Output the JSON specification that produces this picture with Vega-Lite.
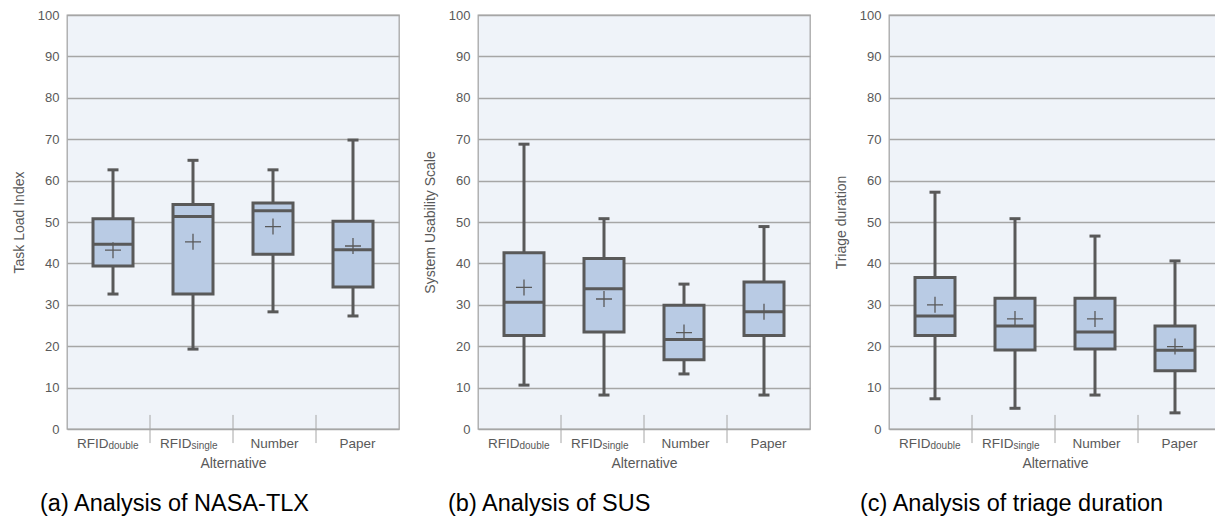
{
  "$schema": "https://vega.github.io/schema/vega-lite/v6.json",
  "padding": {"left": 11, "top": 8, "right": 0, "bottom": 0},
  "bounds": "flush",
  "spacing": 79,
  "datasets": {
    "tlx": [
      {"cat": "RFIDdouble", "sub": "double", "lo": 32.6, "q1": 39.4, "med": 44.6, "q3": 50.8, "hi": 62.6, "mean": 43.2},
      {"cat": "RFIDsingle", "sub": "single", "lo": 19.3, "q1": 32.6, "med": 51.3, "q3": 54.2, "hi": 64.9, "mean": 45.2},
      {"cat": "Number", "sub": "", "lo": 28.3, "q1": 42.2, "med": 52.7, "q3": 54.6, "hi": 62.6, "mean": 48.9},
      {"cat": "Paper", "sub": "", "lo": 27.3, "q1": 34.3, "med": 43.3, "q3": 50.2, "hi": 69.8, "mean": 44.2}
    ],
    "sus": [
      {"cat": "RFIDdouble", "sub": "double", "lo": 10.6, "q1": 22.6, "med": 30.6, "q3": 42.6, "hi": 68.8, "mean": 34.2},
      {"cat": "RFIDsingle", "sub": "single", "lo": 8.2, "q1": 23.4, "med": 33.9, "q3": 41.2, "hi": 50.8, "mean": 31.4},
      {"cat": "Number", "sub": "", "lo": 13.3, "q1": 16.7, "med": 21.6, "q3": 29.9, "hi": 35.0, "mean": 23.3},
      {"cat": "Paper", "sub": "", "lo": 8.2, "q1": 22.6, "med": 28.3, "q3": 35.5, "hi": 48.9, "mean": 28.3}
    ],
    "triage": [
      {"cat": "RFIDdouble", "sub": "double", "lo": 7.3, "q1": 22.6, "med": 27.3, "q3": 36.6, "hi": 57.2, "mean": 30.0},
      {"cat": "RFIDsingle", "sub": "single", "lo": 5.0, "q1": 19.1, "med": 24.9, "q3": 31.6, "hi": 50.8, "mean": 26.6},
      {"cat": "Number", "sub": "", "lo": 8.2, "q1": 19.3, "med": 23.4, "q3": 31.6, "hi": 46.6, "mean": 26.6},
      {"cat": "Paper", "sub": "", "lo": 3.9, "q1": 14.1, "med": 19.0, "q3": 24.9, "hi": 40.6, "mean": 19.9}
    ]
  },
  "config": {
    "font": "Liberation Sans",
    "view": {"fill": "#EFF3F9", "stroke": "#A6A6A6", "strokeWidth": 1.3},
    "axisY": {
      "grid": true, "gridColor": "#A6A6A6", "gridWidth": 1.3, "domain": false, "ticks": false,
      "labelPadding": 8, "labelFontSize": 13, "labelColor": "#595959",
      "titleFontSize": 14, "titleColor": "#595959", "titleFontWeight": "normal", "titlePadding": 11,
      "values": [0, 10, 20, 30, 40, 50, 60, 70, 80, 90, 100]
    },
    "title": {"fontSize": 23.5, "fontWeight": "normal", "color": "#000000"}
  },
  "hconcat": [
    {
      "data": {"name": "tlx"},
      "width": 332, "height": 414,
      "title": {"text": "(a) Analysis of NASA-TLX", "orient": "bottom", "anchor": "start", "frame": "group", "dx": -27, "offset": 21},
      "resolve": {"scale": {"x": "independent"}},
      "layer": [
        {"mark": {"type": "rule", "color": "#595959", "strokeWidth": 3},
         "encoding": {
           "x": {"field": "cat", "type": "nominal", "scale": {"type": "point", "padding": 0.575, "domain": ["RFIDdouble", "RFIDsingle", "Number", "Paper"]}, "axis": null},
           "y": {"field": "lo", "type": "quantitative", "scale": {"domain": [0, 100], "nice": false}, "title": "Task Load Index"},
           "y2": {"field": "hi"}}},
        {"mark": {"type": "tick", "color": "#595959", "thickness": 3, "size": 11, "opacity": 1},
         "encoding": {
           "x": {"field": "cat", "type": "nominal", "scale": {"type": "point", "padding": 0.575, "domain": ["RFIDdouble", "RFIDsingle", "Number", "Paper"]}, "axis": null},
           "y": {"field": "lo", "type": "quantitative", "scale": {"domain": [0, 100], "nice": false}, "title": "Task Load Index"}}},
        {"mark": {"type": "tick", "color": "#595959", "thickness": 3, "size": 11, "opacity": 1},
         "encoding": {
           "x": {"field": "cat", "type": "nominal", "scale": {"type": "point", "padding": 0.575, "domain": ["RFIDdouble", "RFIDsingle", "Number", "Paper"]}, "axis": null},
           "y": {"field": "hi", "type": "quantitative", "scale": {"domain": [0, 100], "nice": false}, "title": "Task Load Index"}}},
        {"mark": {"type": "bar", "fill": "#B9CBE4", "stroke": "#595959", "strokeWidth": 3, "size": 40},
         "encoding": {
           "x": {"field": "cat", "type": "nominal", "scale": {"type": "point", "padding": 0.575, "domain": ["RFIDdouble", "RFIDsingle", "Number", "Paper"]}, "axis": null},
           "y": {"field": "q1", "type": "quantitative", "scale": {"domain": [0, 100], "nice": false}, "title": "Task Load Index"},
           "y2": {"field": "q3"}}},
        {"mark": {"type": "tick", "color": "#595959", "thickness": 3, "size": 40, "opacity": 1},
         "encoding": {
           "x": {"field": "cat", "type": "nominal", "scale": {"type": "point", "padding": 0.575, "domain": ["RFIDdouble", "RFIDsingle", "Number", "Paper"]}, "axis": null},
           "y": {"field": "med", "type": "quantitative", "scale": {"domain": [0, 100], "nice": false}, "title": "Task Load Index"}}},
        {"mark": {"type": "point", "shape": "M-1,0L1,0M0,-1L0,1", "filled": false, "stroke": "#595959", "strokeWidth": 1.3, "size": 256, "opacity": 1},
         "encoding": {
           "x": {"field": "cat", "type": "nominal", "scale": {"type": "point", "padding": 0.575, "domain": ["RFIDdouble", "RFIDsingle", "Number", "Paper"]}, "axis": null},
           "y": {"field": "mean", "type": "quantitative", "scale": {"domain": [0, 100], "nice": false}, "title": "Task Load Index"}}},
        {"transform": [{"filter": "datum.cat != 'RFIDdouble'"}],
         "mark": {"type": "rule", "color": "#A6A6A6", "strokeWidth": 1},
         "encoding": {
           "x": {"field": "cat", "type": "nominal", "bandPosition": 0,
                 "scale": {"type": "band", "paddingInner": 0, "paddingOuter": 0, "domain": ["RFIDdouble", "RFIDsingle", "Number", "Paper"]},
                 "axis": {"title": "Alternative", "ticks": false, "domain": false, "labelAngle": 0, "labelPadding": 7, "labelFontSize": 13.5, "labelColor": "#595959",
                          "titleFontSize": 14, "titleColor": "#595959", "titleFontWeight": "normal", "titlePadding": 7, "labelOverlap": false,
                          "labelExpr": "indexof(datum.value, 'RFID') == 0 ? 'RFID' : datum.value",
                          "labelAlign": {"condition": {"test": "indexof(datum.value, 'RFID') == 0", "value": "right"}, "value": "center"}}},
           "y": {"datum": 3.4, "type": "quantitative", "scale": {"domain": [0, 100], "nice": false}, "title": "Task Load Index"},
           "y2": {"datum": -3.4}}},
        {"mark": {"type": "text", "align": "left", "baseline": "alphabetic", "fontSize": 10, "color": "#595959", "dy": 20},
         "encoding": {
           "x": {"field": "cat", "type": "nominal", "scale": {"type": "band", "paddingInner": 0, "paddingOuter": 0, "domain": ["RFIDdouble", "RFIDsingle", "Number", "Paper"]}, "axis": null},
           "y": {"datum": 0, "type": "quantitative", "scale": {"domain": [0, 100], "nice": false}, "title": "Task Load Index"},
           "text": {"field": "sub"}}}
      ]
    },
    {
      "data": {"name": "sus"},
      "width": 332, "height": 414,
      "title": {"text": "(b) Analysis of SUS", "orient": "bottom", "anchor": "start", "frame": "group", "dx": -30, "offset": 21},
      "resolve": {"scale": {"x": "independent"}},
      "layer": [
        {"mark": {"type": "rule", "color": "#595959", "strokeWidth": 3},
         "encoding": {
           "x": {"field": "cat", "type": "nominal", "scale": {"type": "point", "padding": 0.575, "domain": ["RFIDdouble", "RFIDsingle", "Number", "Paper"]}, "axis": null},
           "y": {"field": "lo", "type": "quantitative", "scale": {"domain": [0, 100], "nice": false}, "title": "System Usability Scale"},
           "y2": {"field": "hi"}}},
        {"mark": {"type": "tick", "color": "#595959", "thickness": 3, "size": 11, "opacity": 1},
         "encoding": {
           "x": {"field": "cat", "type": "nominal", "scale": {"type": "point", "padding": 0.575, "domain": ["RFIDdouble", "RFIDsingle", "Number", "Paper"]}, "axis": null},
           "y": {"field": "lo", "type": "quantitative", "scale": {"domain": [0, 100], "nice": false}, "title": "System Usability Scale"}}},
        {"mark": {"type": "tick", "color": "#595959", "thickness": 3, "size": 11, "opacity": 1},
         "encoding": {
           "x": {"field": "cat", "type": "nominal", "scale": {"type": "point", "padding": 0.575, "domain": ["RFIDdouble", "RFIDsingle", "Number", "Paper"]}, "axis": null},
           "y": {"field": "hi", "type": "quantitative", "scale": {"domain": [0, 100], "nice": false}, "title": "System Usability Scale"}}},
        {"mark": {"type": "bar", "fill": "#B9CBE4", "stroke": "#595959", "strokeWidth": 3, "size": 40},
         "encoding": {
           "x": {"field": "cat", "type": "nominal", "scale": {"type": "point", "padding": 0.575, "domain": ["RFIDdouble", "RFIDsingle", "Number", "Paper"]}, "axis": null},
           "y": {"field": "q1", "type": "quantitative", "scale": {"domain": [0, 100], "nice": false}, "title": "System Usability Scale"},
           "y2": {"field": "q3"}}},
        {"mark": {"type": "tick", "color": "#595959", "thickness": 3, "size": 40, "opacity": 1},
         "encoding": {
           "x": {"field": "cat", "type": "nominal", "scale": {"type": "point", "padding": 0.575, "domain": ["RFIDdouble", "RFIDsingle", "Number", "Paper"]}, "axis": null},
           "y": {"field": "med", "type": "quantitative", "scale": {"domain": [0, 100], "nice": false}, "title": "System Usability Scale"}}},
        {"mark": {"type": "point", "shape": "M-1,0L1,0M0,-1L0,1", "filled": false, "stroke": "#595959", "strokeWidth": 1.3, "size": 256, "opacity": 1},
         "encoding": {
           "x": {"field": "cat", "type": "nominal", "scale": {"type": "point", "padding": 0.575, "domain": ["RFIDdouble", "RFIDsingle", "Number", "Paper"]}, "axis": null},
           "y": {"field": "mean", "type": "quantitative", "scale": {"domain": [0, 100], "nice": false}, "title": "System Usability Scale"}}},
        {"transform": [{"filter": "datum.cat != 'RFIDdouble'"}],
         "mark": {"type": "rule", "color": "#A6A6A6", "strokeWidth": 1},
         "encoding": {
           "x": {"field": "cat", "type": "nominal", "bandPosition": 0,
                 "scale": {"type": "band", "paddingInner": 0, "paddingOuter": 0, "domain": ["RFIDdouble", "RFIDsingle", "Number", "Paper"]},
                 "axis": {"title": "Alternative", "ticks": false, "domain": false, "labelAngle": 0, "labelPadding": 7, "labelFontSize": 13.5, "labelColor": "#595959",
                          "titleFontSize": 14, "titleColor": "#595959", "titleFontWeight": "normal", "titlePadding": 7, "labelOverlap": false,
                          "labelExpr": "indexof(datum.value, 'RFID') == 0 ? 'RFID' : datum.value",
                          "labelAlign": {"condition": {"test": "indexof(datum.value, 'RFID') == 0", "value": "right"}, "value": "center"}}},
           "y": {"datum": 3.4, "type": "quantitative", "scale": {"domain": [0, 100], "nice": false}, "title": "System Usability Scale"},
           "y2": {"datum": -3.4}}},
        {"mark": {"type": "text", "align": "left", "baseline": "alphabetic", "fontSize": 10, "color": "#595959", "dy": 20},
         "encoding": {
           "x": {"field": "cat", "type": "nominal", "scale": {"type": "band", "paddingInner": 0, "paddingOuter": 0, "domain": ["RFIDdouble", "RFIDsingle", "Number", "Paper"]}, "axis": null},
           "y": {"datum": 0, "type": "quantitative", "scale": {"domain": [0, 100], "nice": false}, "title": "System Usability Scale"},
           "text": {"field": "sub"}}}
      ]
    },
    {
      "data": {"name": "triage"},
      "width": 332, "height": 414,
      "title": {"text": "(c) Analysis of triage duration", "orient": "bottom", "anchor": "start", "frame": "group", "dx": -29, "offset": 21},
      "resolve": {"scale": {"x": "independent"}},
      "layer": [
        {"mark": {"type": "rule", "color": "#595959", "strokeWidth": 3},
         "encoding": {
           "x": {"field": "cat", "type": "nominal", "scale": {"type": "point", "padding": 0.575, "domain": ["RFIDdouble", "RFIDsingle", "Number", "Paper"]}, "axis": null},
           "y": {"field": "lo", "type": "quantitative", "scale": {"domain": [0, 100], "nice": false}, "title": "Triage duration"},
           "y2": {"field": "hi"}}},
        {"mark": {"type": "tick", "color": "#595959", "thickness": 3, "size": 11, "opacity": 1},
         "encoding": {
           "x": {"field": "cat", "type": "nominal", "scale": {"type": "point", "padding": 0.575, "domain": ["RFIDdouble", "RFIDsingle", "Number", "Paper"]}, "axis": null},
           "y": {"field": "lo", "type": "quantitative", "scale": {"domain": [0, 100], "nice": false}, "title": "Triage duration"}}},
        {"mark": {"type": "tick", "color": "#595959", "thickness": 3, "size": 11, "opacity": 1},
         "encoding": {
           "x": {"field": "cat", "type": "nominal", "scale": {"type": "point", "padding": 0.575, "domain": ["RFIDdouble", "RFIDsingle", "Number", "Paper"]}, "axis": null},
           "y": {"field": "hi", "type": "quantitative", "scale": {"domain": [0, 100], "nice": false}, "title": "Triage duration"}}},
        {"mark": {"type": "bar", "fill": "#B9CBE4", "stroke": "#595959", "strokeWidth": 3, "size": 40},
         "encoding": {
           "x": {"field": "cat", "type": "nominal", "scale": {"type": "point", "padding": 0.575, "domain": ["RFIDdouble", "RFIDsingle", "Number", "Paper"]}, "axis": null},
           "y": {"field": "q1", "type": "quantitative", "scale": {"domain": [0, 100], "nice": false}, "title": "Triage duration"},
           "y2": {"field": "q3"}}},
        {"mark": {"type": "tick", "color": "#595959", "thickness": 3, "size": 40, "opacity": 1},
         "encoding": {
           "x": {"field": "cat", "type": "nominal", "scale": {"type": "point", "padding": 0.575, "domain": ["RFIDdouble", "RFIDsingle", "Number", "Paper"]}, "axis": null},
           "y": {"field": "med", "type": "quantitative", "scale": {"domain": [0, 100], "nice": false}, "title": "Triage duration"}}},
        {"mark": {"type": "point", "shape": "M-1,0L1,0M0,-1L0,1", "filled": false, "stroke": "#595959", "strokeWidth": 1.3, "size": 256, "opacity": 1},
         "encoding": {
           "x": {"field": "cat", "type": "nominal", "scale": {"type": "point", "padding": 0.575, "domain": ["RFIDdouble", "RFIDsingle", "Number", "Paper"]}, "axis": null},
           "y": {"field": "mean", "type": "quantitative", "scale": {"domain": [0, 100], "nice": false}, "title": "Triage duration"}}},
        {"transform": [{"filter": "datum.cat != 'RFIDdouble'"}],
         "mark": {"type": "rule", "color": "#A6A6A6", "strokeWidth": 1},
         "encoding": {
           "x": {"field": "cat", "type": "nominal", "bandPosition": 0,
                 "scale": {"type": "band", "paddingInner": 0, "paddingOuter": 0, "domain": ["RFIDdouble", "RFIDsingle", "Number", "Paper"]},
                 "axis": {"title": "Alternative", "ticks": false, "domain": false, "labelAngle": 0, "labelPadding": 7, "labelFontSize": 13.5, "labelColor": "#595959",
                          "titleFontSize": 14, "titleColor": "#595959", "titleFontWeight": "normal", "titlePadding": 7, "labelOverlap": false,
                          "labelExpr": "indexof(datum.value, 'RFID') == 0 ? 'RFID' : datum.value",
                          "labelAlign": {"condition": {"test": "indexof(datum.value, 'RFID') == 0", "value": "right"}, "value": "center"}}},
           "y": {"datum": 3.4, "type": "quantitative", "scale": {"domain": [0, 100], "nice": false}, "title": "Triage duration"},
           "y2": {"datum": -3.4}}},
        {"mark": {"type": "text", "align": "left", "baseline": "alphabetic", "fontSize": 10, "color": "#595959", "dy": 20},
         "encoding": {
           "x": {"field": "cat", "type": "nominal", "scale": {"type": "band", "paddingInner": 0, "paddingOuter": 0, "domain": ["RFIDdouble", "RFIDsingle", "Number", "Paper"]}, "axis": null},
           "y": {"datum": 0, "type": "quantitative", "scale": {"domain": [0, 100], "nice": false}, "title": "Triage duration"},
           "text": {"field": "sub"}}}
      ]
    }
  ]
}
